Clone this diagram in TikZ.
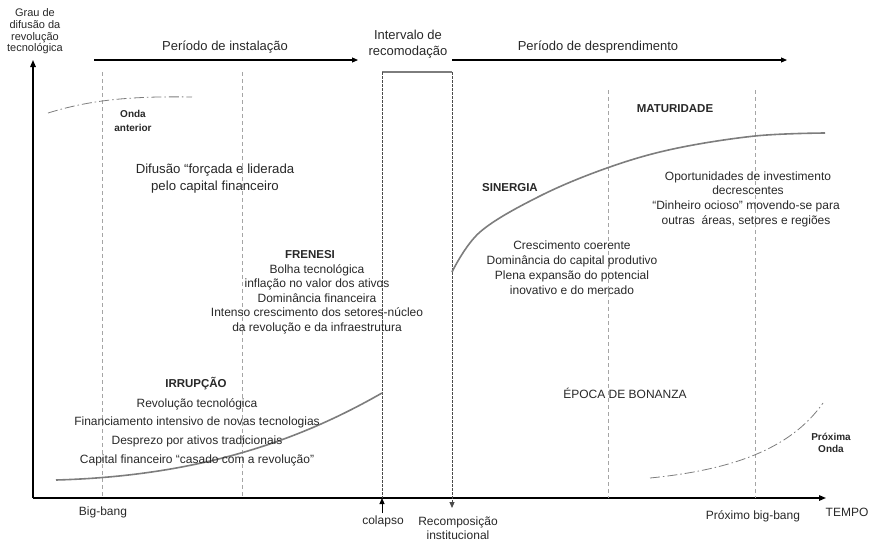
\documentclass[tikz,border=0pt]{standalone}
\usepackage{fontspec}
\setmainfont{Liberation Sans}
\usetikzlibrary{arrows.meta}
\definecolor{txt}{RGB}{40,40,40}
\definecolor{curvec}{RGB}{125,125,125}
\definecolor{guide}{RGB}{165,165,165}
\definecolor{boxc}{RGB}{75,75,75}
\begin{document}
\begin{tikzpicture}[x=1pt,y=-1pt,
  lbl/.style={inner sep=0pt, text=txt, align=center, font=\fontsize{12}{15}\selectfont},
  head/.style={inner sep=0pt, text=txt, align=center, font=\fontsize{13}{16.5}\selectfont},
  ttl/.style={inner sep=0pt, text=txt, align=center, font=\fontsize{11.5}{14}\selectfont\bfseries},
  small/.style={inner sep=0pt, text=txt, align=center, font=\fontsize{11}{11.7}\selectfont},
  wave/.style={inner sep=0pt, text=txt, align=center, font=\fontsize{10}{12}\selectfont\bfseries},
  axisline/.style={line width=1.4pt, black, -{Triangle[length=7pt,width=5.5pt]}},
  period/.style={line width=1.1pt, black},
  guideline/.style={guide, line width=0.8pt, dash pattern=on 4pt off 3pt},
  boxside/.style={boxc, line width=0.9pt, dash pattern=on 3pt off 1pt},
  maincurve/.style={curvec, line width=1.6pt},
  ddot/.style={curvec, line width=0.8pt, dash pattern=on 10pt off 3pt on 1.5pt off 3pt},
  tip/.style={-{Triangle[length=6pt,width=5pt]}}
]
\useasboundingbox (0,0) rectangle (871,541);

% axes
\coordinate (O) at (33,498);
\coordinate (Ytop) at (33,60);
\coordinate (Xend) at (826,498);
\draw[axisline] (O) -- (Ytop);
\draw[axisline] (O) -- (Xend);

% period lines
\coordinate (p1a) at (94,60);
\coordinate (p1b) at (358,60);
\coordinate (p2a) at (452,60);
\coordinate (p2b) at (787,60);
\draw[period, tip] (p1a) -- (p1b);
\draw[period, tip] (p2a) -- (p2b);

% guide lines
\coordinate (g1t) at (102,72); \coordinate (g1b) at (102,498);
\coordinate (g2t) at (242,72); \coordinate (g2b) at (242,498);
\coordinate (g3t) at (608,90); \coordinate (g3b) at (608,498);
\coordinate (g4t) at (755,90); \coordinate (g4b) at (755,498);
\draw[guideline] (g1t) -- (g1b);
\draw[guideline] (g2t) -- (g2b);
\draw[guideline] (g3t) -- (g3b);
\draw[guideline] (g4t) -- (g4b);

% box
\coordinate (bl) at (382,72);
\coordinate (br) at (452,72);
\coordinate (blb) at (382,498);
\coordinate (brb) at (452,508);
\coordinate (col) at (382,513);
\draw[curvec, line width=1.2pt] (bl) -- (br);
\draw[boxside] (bl) -- (blb);
\draw[boxside, tip] (br) -- (brb);
\draw[black, line width=1pt, tip] (col) -- (blb);

% curves
\draw[maincurve] (56,480) .. controls (200,476) and (300,440) .. (382,393);
\draw[maincurve] plot[smooth, tension=0.6] coordinates {(452,272) (480,232) (540,196) (607,168) (673,149) (755,136) (825,133)};
\draw[ddot] (48,113) .. controls (90,100) and (130,96) .. (192,97);
\draw[ddot] (650,478) .. controls (730,470) and (790,450) .. (823,403);

% texts
\node[small] (ylab) at (35,31.5) {Grau de\\difusão da\\revolução\\tecnológica};
\node[head] (inst) at (225,47) {Período de instalação};
\node[head] (interv) at (408,44) {Intervalo de\\recomodação};
\node[head] (despr) at (598,47) {Período de desprendimento};

\node[wave, font=\fontsize{10}{13.5}\selectfont\bfseries] (onda) at (133,121) {Onda\\anterior};
\node[lbl, font=\fontsize{13.2}{17}\selectfont] (difus) at (215,179) {Difusão “forçada e liderada\\pelo capital financeiro};

\node[ttl] (frenesi) at (310,255) {FRENESI};
\node[lbl, font=\fontsize{12}{14.5}\selectfont] (frenesib) at (317,299) {Bolha tecnológica\\inflação no valor dos ativos\\Dominância financeira\\Intenso crescimento dos setores-núcleo\\da revolução e da infraestrutura};

\node[ttl] (irrup) at (196,384) {IRRUPÇÃO};
\node[lbl, font=\fontsize{12}{18.7}\selectfont] (irrupb) at (197,432) {Revolução tecnológica\\Financiamento intensivo de novas tecnologias\\Desprezo por ativos tradicionais\\Capital financeiro “casado com a revolução”};

\node[ttl] (sin) at (510,188) {SINERGIA};
\node[lbl] (sinb) at (572,268) {Crescimento coerente\\Dominância do capital produtivo\\Plena expansão do potencial\\inovativo e do mercado};

\node[ttl] (mat) at (675,109) {MATURIDADE};
\node[lbl, font=\fontsize{12}{14}\selectfont] (matb1) at (748,183) {Oportunidades de investimento\\decrescentes};
\node[lbl] (matb2) at (746,214) {“Dinheiro ocioso” movendo-se para\\outras\ \ áreas, setores e regiões};

\node[lbl] (bon) at (625,393) {ÉPOCA DE BONANZA};
\node[wave] (prox) at (831,443) {Próxima\\Onda};

\node[lbl] (bb) at (103,512) {Big-bang};
\node[lbl] (colapso) at (383,521) {colapso};
\node[lbl, font=\fontsize{12}{13.5}\selectfont] (recomp) at (458,528) {Recomposição\\institucional};
\node[lbl] (pbb) at (753,516) {Próximo big-bang};
\node[lbl] (tempo) at (847,512) {TEMPO};
\end{tikzpicture}
\end{document}
